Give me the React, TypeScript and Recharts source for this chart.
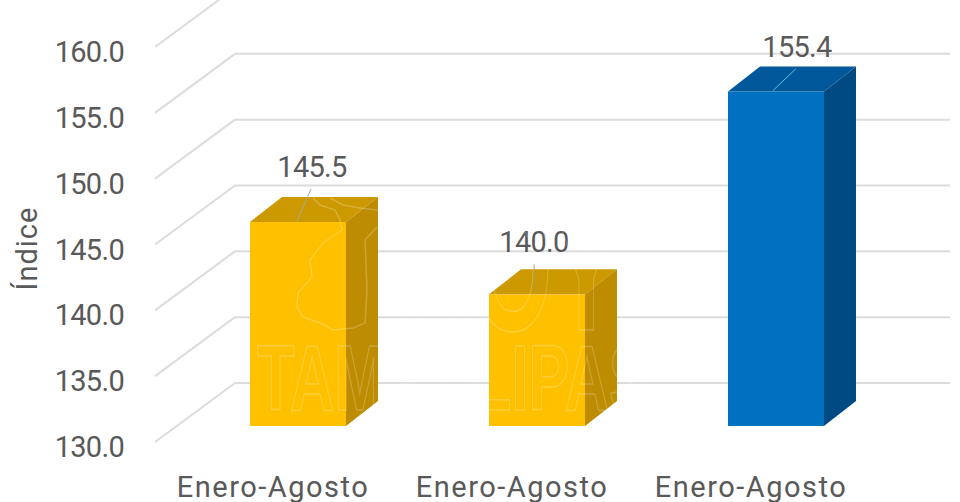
import { BarChart, Bar, XAxis, YAxis, CartesianGrid, LabelList } from "recharts";

const categories = ["Enero-Agosto", "Enero-Agosto", "Enero-Agosto"];
const values = [145.5, 140.0, 155.4];
const barColors = ["#ffc000", "#ffc000", "#0070c0"];
const topColors = ["#cc9a00", "#cc9a00", "#00579a"];
const sideColors = ["#bd8c00", "#bd8c00", "#004a84"];
const yTicks = [130, 135, 140, 145, 150, 155, 160];

// where the value labels sit relative to the top of each bar
const labelShift = [
  { dx: 14, dy: -55, lineX: -1, lineColor: "#a9a9a0" },
  { dx: -3, dy: -52, lineX: -2, lineColor: "#b09a50" },
  { dx: 21, dy: -45, lineX: -3, lineColor: "#5cc0d8" },
];

const data = categories.map((name, i) => ({ id: i, name, value: values[i] }));

const WIDTH = 960;
const HEIGHT = 502;
const DEPTH_X = 32;
const DEPTH_Y = 25;
const FONT = "Roboto, sans-serif";
const TEXT = "#595959";
const WATERMARK = "rgba(255,255,255,0.22)";

const Bar3D = (props: any) => {
  const { x, y, width, height, index } = props;
  const bottom = y + height;
  return (
    <g>
      <rect x={x} y={y} width={width} height={height} fill={barColors[index]} />
      <polygon
        points={`${x},${y} ${x + DEPTH_X},${y - DEPTH_Y} ${x + width + DEPTH_X},${y - DEPTH_Y} ${x + width},${y}`}
        fill={topColors[index]}
      />
      <polygon
        points={`${x + width},${y} ${x + width + DEPTH_X},${y - DEPTH_Y} ${x + width + DEPTH_X},${bottom - DEPTH_Y} ${x + width},${bottom}`}
        fill={sideColors[index]}
      />
    </g>
  );
};

const ValueLabel = (props: any) => {
  const { x, y, width, value, index } = props;
  const s = labelShift[index];
  const cx = x + width / 2;
  return (
    <g>
      <line
        x1={cx + s.lineX}
        y1={y - 1}
        x2={cx + s.dx + (index === 1 ? 0 : -1)}
        y2={y + s.dy + 22}
        stroke={s.lineColor}
        strokeWidth={1}
      />
      <text
        x={cx + s.dx}
        y={y + s.dy + 10}
        textAnchor="middle"
        fontFamily={FONT}
        fontSize={29}
        letterSpacing={-0.7}
        fill={TEXT}
      >
        {Number(value).toFixed(1)}
      </text>
    </g>
  );
};

const YTick = (props: any) => {
  const { y, payload } = props;
  return (
    <text
      x={124}
      y={y + 31}
      textAnchor="end"
      fontFamily={FONT}
      fontSize={29}
      letterSpacing={-0.7}
      fill={TEXT}
    >
      {Number(payload.value).toFixed(1)}
    </text>
  );
};

const XTick = (props: any) => {
  const { x, payload } = props;
  return (
    <text
      x={x - 25}
      y={497}
      textAnchor="middle"
      fontFamily={FONT}
      fontSize={29}
      letterSpacing={1.5}
      fill={TEXT}
    >
      {payload.value}
    </text>
  );
};

// back wall line plus the diagonal running down to the axis label
const WallLine = (props: any) => {
  const { y1, key } = props;
  return (
    <g key={key}>
      <line x1={155} y1={y1 + 16} x2={235} y2={y1 - 43} stroke="#dcdcdc" strokeWidth={2} />
      <line x1={235} y1={y1 - 43} x2={950} y2={y1 - 43} stroke="#dcdcdc" strokeWidth={2} />
    </g>
  );
};

// faint site watermark that shows up over the bars
const Watermark = () => (
  <svg
    width={WIDTH}
    height={HEIGHT}
    style={{ position: "absolute", left: 0, top: 0, pointerEvents: "none" }}
  >
    <path
      d="M313 198 L320 205 L335 210 L340 220 L342 230 L323 243 L310 260 L312 277 L298 293 L297 307 L303 317 L320 323 L333 330 L353 328 L365 323 L367 290 L365 240 L377 227"
      fill="none"
      stroke={WATERMARK}
      strokeWidth={1.5}
    />
    <path d="M330 198 L343 205 L360 208 L378 210" fill="none" stroke={WATERMARK} strokeWidth={1.5} />
    <text
      x={400}
      y={330}
      fontFamily="'Liberation Sans Narrow', 'Liberation Sans', sans-serif"
      fontWeight={700}
      fontSize={180}
      textLength={220}
      lengthAdjust="spacingAndGlyphs"
      fill="none"
      stroke={WATERMARK}
      strokeWidth={1.5}
    >
      HOY
    </text>
    <text
      x={257}
      y={410}
      fontFamily="'Liberation Sans Narrow', 'Liberation Sans', sans-serif"
      fontWeight={700}
      fontSize={93}
      textLength={393}
      lengthAdjust="spacingAndGlyphs"
      fill="none"
      stroke={WATERMARK}
      strokeWidth={1.5}
    >
      TAMAULIPAS
    </text>
  </svg>
);

export default function App() {
  return (
    <div
      style={{
        position: "absolute",
        left: 0,
        top: 0,
        width: WIDTH,
        height: HEIGHT,
        background: "#fff",
        overflow: "hidden",
      }}
    >
      <BarChart
        width={WIDTH}
        height={HEIGHT}
        data={data}
        barCategoryGap={71.5}
        margin={{ top: 31, right: 64.5, bottom: 0, left: 0 }}
      >
        <CartesianGrid vertical={false} horizontal={WallLine} />
        <XAxis
          dataKey="id"
          xAxisId={0}
          height={76}
          axisLine={false}
          tickLine={false}
          interval={0}
          tick={(p: any) => <XTick {...p} payload={{ value: categories[p.index] }} />}
        />
        <YAxis
          width={178.5}
          domain={[130, 160]}
          ticks={yTicks}
          axisLine={false}
          tickLine={false}
          tick={YTick}
          interval={0}
          label={{
            value: "Índice",
            angle: -90,
            position: "insideLeft",
            dx: 22,
            dy: 20,
            style: { fontFamily: FONT, fontSize: 29, letterSpacing: 1, fill: TEXT, textAnchor: "middle" },
          }}
        />
        <Bar dataKey="value" isAnimationActive={false} shape={Bar3D}>
          <LabelList dataKey="value" content={ValueLabel} />
        </Bar>
      </BarChart>
      <Watermark />
    </div>
  );
}
